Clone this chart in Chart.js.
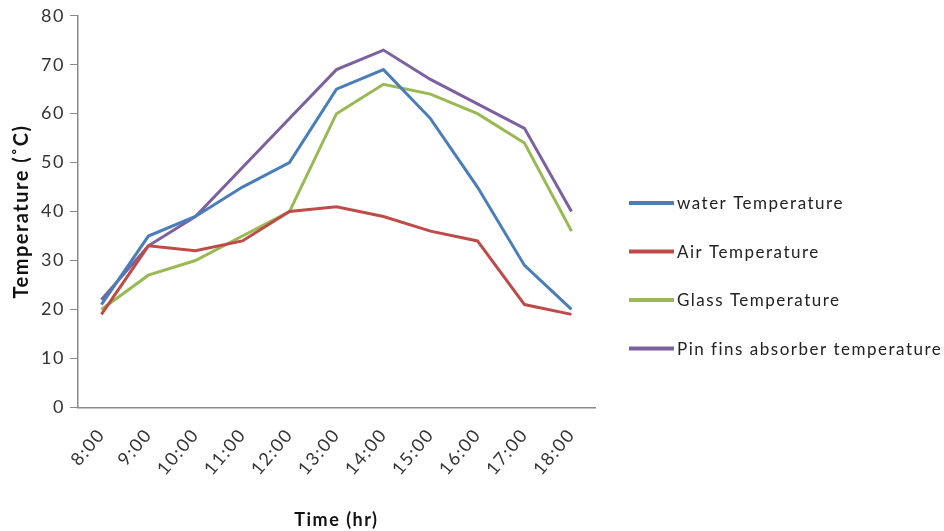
<!DOCTYPE html>
<html>
<head>
<meta charset="utf-8">
<script src="https://cdn.jsdelivr.net/npm/chart.js@4"></script>
<style>
  html, body { margin: 0; padding: 0; background: #fff; }
  #wrap { width: 944px; height: 531px; }
</style>
</head>
<body>
<div id="wrap"><canvas id="chart" width="944" height="531"></canvas></div>
<script>
const hours = ['8:00', '9:00', '10:00', '11:00', '12:00', '13:00', '14:00', '15:00', '16:00', '17:00', '18:00'];
const waterTemp = [21, 35, 39, 45, 50, 65, 69, 59, 45, 29, 20];
const airTemp = [19, 33, 32, 34, 40, 41, 39, 36, 34, 21, 19];
const glassTemp = [20, 27, 30, 35, 40, 60, 66, 64, 60, 54, 36];
const pinFinTemp = [22, 33, 39, 49, 59, 69, 73, 67, 62, 57, 40];

const font = 'Lato';
const letterSpacing = '1.5px';

// the original text is set a little loose, so widen the canvas lettering
const spacing = {
  id: 'spacing',
  beforeUpdate(chart) { chart.ctx.letterSpacing = letterSpacing; },
  beforeDraw(chart) { chart.ctx.letterSpacing = letterSpacing; }
};

// built-in right legend is capped at a quarter of the width, so draw the list here
const sideLegend = {
  id: 'sideLegend',
  afterDraw(chart, args, opts) {
    const ctx = chart.ctx;
    ctx.save();
    ctx.letterSpacing = letterSpacing;
    ctx.font = opts.size + 'px ' + font;
    ctx.textBaseline = 'middle';
    ctx.textAlign = 'left';
    chart.data.datasets.forEach((ds, i) => {
      const y = opts.top + i * opts.step;
      ctx.strokeStyle = ds.borderColor;
      ctx.lineWidth = 4;
      ctx.beginPath();
      ctx.moveTo(opts.left, y);
      ctx.lineTo(opts.left + opts.lineLength, y);
      ctx.stroke();
      ctx.fillStyle = '#222';
      ctx.fillText(ds.label, opts.left + opts.lineLength + 3, y + 1);
    });
    ctx.restore();
  }
};

function series(label, data, color) {
  return {
    label: label,
    data: data,
    borderColor: color,
    backgroundColor: color,
    borderWidth: 3,
    pointRadius: 0,
    tension: 0,
    fill: false
  };
}

function makeChart() {
  new Chart(document.getElementById('chart').getContext('2d'), {
    type: 'line',
    data: {
      labels: hours,
      datasets: [
        series('water Temperature', waterTemp, '#4A7EBB'),
        series('Air Temperature', airTemp, '#BE4B48'),
        series('Glass Temperature', glassTemp, '#98B954'),
        series('Pin fins absorber temperature', pinFinTemp, '#7D60A0')
      ]
    },
    plugins: [spacing, sideLegend],
    options: {
      responsive: false,
      animation: false,
      layout: { padding: { left: 10, right: 349, top: 3, bottom: 0 } },
      plugins: {
        tooltip: { enabled: false },
        legend: { display: false },
        sideLegend: { left: 629, top: 203, step: 48.5, lineLength: 45, size: 17 }
      },
      scales: {
        x: {
          offset: true,
          grid: { display: false, drawTicks: false },
          border: { color: '#8a8a8a', width: 1.5 },
          ticks: {
            minRotation: 50,
            maxRotation: 50,
            padding: 17,
            color: '#333',
            font: { family: font, size: 18 }
          },
          title: {
            display: true,
            text: 'Time (hr)',
            color: '#111',
            padding: { top: 13, bottom: 0 },
            font: { family: font, size: 18, weight: 'bold' }
          }
        },
        y: {
          min: 0,
          max: 80,
          grid: { drawOnChartArea: false, drawTicks: true, tickLength: 8, color: '#8a8a8a' },
          border: { color: '#8a8a8a', width: 1.5 },
          ticks: {
            stepSize: 10,
            padding: 5,
            color: '#333',
            font: { family: font, size: 18 }
          },
          title: {
            display: true,
            text: 'Temperature (˚C)',
            color: '#111',
            padding: { top: 0, bottom: 2 },
            font: { family: font, size: 20, weight: 'bold' }
          }
        }
      }
    }
  });
}

document.fonts.load('17px Lato').then(() => document.fonts.load('bold 20px Lato')).then(makeChart, makeChart);
</script>
</body>
</html>
